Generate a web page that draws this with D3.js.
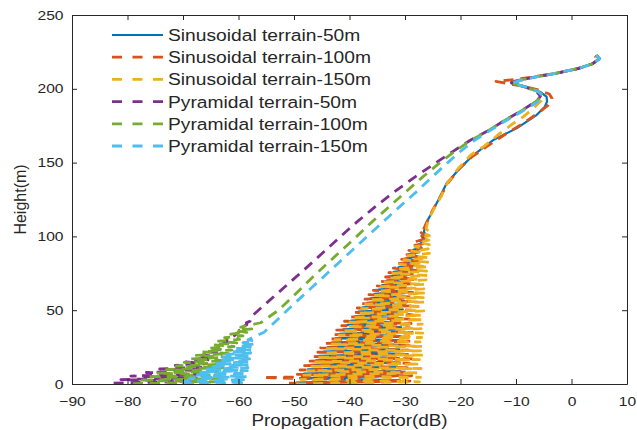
<!DOCTYPE html>
<html><head><meta charset="utf-8">
<script src="https://cdn.jsdelivr.net/npm/d3@7"></script>
<style>body{margin:0;background:#fff}svg{display:block}</style>
</head><body>
<svg id="c" width="637" height="430"></svg>
<script>
// ---- tick values ----
const xTicks = [-90,-80,-70,-60,-50,-40,-30,-20,-10,0,10];
const yTicks = [0,50,100,150,200,250];
const xLabel = "Propagation Factor(dB)";
const yLabel = "Height(m)";

// ---- series: [propagation factor dB, height m] ----
const seriesNames = ["Sinusoidal terrain-50m","Sinusoidal terrain-100m","Sinusoidal terrain-150m",
  "Pyramidal terrain-50m","Pyramidal terrain-100m","Pyramidal terrain-150m"];
const seriesColors = ["#0072BD","#D95319","#EDB120","#7E2F8E","#77AC30","#4DBEEE"];

const sin50 = [[-49.6,1],[-30.9,2.5],[-48.9,4],[-31.1,5.5],[-48.2,7],[-30.8,8.5],[-47.5,10],[-31.0,11.5],
  [-46.8,13],[-30.9,14.5],[-46.0,16],[-31.1,17.5],[-45.4,19],[-30.8,20.5],[-44.6,22],[-31.0,23.5],
  [-43.9,25],[-30.9,26.5],[-43.2,28],[-31.1,29.5],[-42.5,31],[-30.8,32.5],[-41.8,34],[-30.9,35.5],
  [-41.1,37],[-30.7,38.5],[-40.4,40],[-30.9,41.5],[-39.7,43],[-30.6,44.5],[-38.9,46],[-30.7,47.5],
  [-38.3,49],[-30.4,50.5],[-37.6,52],[-30.5,53.5],[-36.8,55],[-30.2,56.5],[-36.2,58],[-30.3,59.5],
  [-35.5,61],[-29.9,62.5],[-34.8,64],[-29.8,65.5],[-34.1,67],[-29.5,68.5],[-33.3,70],[-29.3,71.5],
  [-32.7,73],[-29.0,74.5],[-32.0,76],[-28.7,77.5],[-31.2,79],[-28.4,80.5],[-30.5,82],[-28.1,83.5],
  [-29.8,85],[-27.8,86.5],[-29.2,88],[-27.4,89.5],[-28.5,91],[-27.1,92.5],[-27.8,94],[-26.8,95.5],
  [-27.4,97],[-26.5,98.5],[-27.0,100],[-26.3,101.5],[-26.6,103],
  [-26.2,109],[-24.9,118],[-23.7,126.9],[-22.5,136],[-20.1,146.1],[-17.7,155.1],[-14.1,165.3],[-9.9,173.2],
  [-6.3,182.2],[-4.8,187.9],[-4.4,191.5],[-4.5,194.7],[-5.7,198],[-8.1,201.4],[-10.3,203.4],[-10.9,204.4],
  [-10.2,205.4],[-8.1,207.1],[-2.7,210.5],[1.5,213.9],[3.9,217.3],[5.1,220.7],[4.5,222.9]];

const sin100 = [[-50.9,0.5],[-29.1,2.0],[-55.6,4.4],[-28.8,5.6],[-49.4,6.5],[-29.3,8.0],[-48.9,9.5],
  [-28.9,11.0],[-48.1,12.5],[-29.2,14.0],[-47.1,15.5],[-28.7,17.0],[-46.7,18.5],[-29.1,20.0],[-45.7,21.5],
  [-29.4,23.0],[-45.2,24.5],[-28.8,26.0],[-44.3,27.5],[-29.0,29.0],[-43.8,30.5],[-29.3,32.0],[-42.8,33.5],
  [-28.7,35.0],[-42.3,36.5],[-29.1,38.0],[-41.4,39.5],[-28.9,41.0],[-40.9,42.5],[-29.2,44.0],[-40.0,45.5],
  [-28.8,47.0],[-39.5,48.5],[-29.0,50.0],[-38.6,51.5],[-28.7,53.0],[-37.9,54.5],[-29.1,56.0],[-37.2,57.5],
  [-28.8,59.0],[-36.5,60.5],[-28.6,62.0],[-35.7,63.5],[-28.9,65.0],[-35.0,66.5],[-28.5,68.0],[-34.4,69.5],
  [-28.3,71.0],[-33.5,72.5],[-28.4,74.0],[-32.9,75.5],[-28.0,77.0],[-32.1,78.5],[-27.9,80.0],[-31.4,81.5],
  [-27.6,83.0],[-30.6,84.5],[-27.5,86.0],[-29.9,87.5],[-27.2,89.0],[-29.3,90.5],[-27.0,92.0],[-28.7,93.5],
  [-26.8,95.0],[-28.1,96.5],[-26.6,98.0],[-27.6,99.5],[-26.4,101.0],[-27.1,102.5],[-26.2,104.0],[-26.6,105.5],
  [-26.0,110],[-25.0,118],[-23.6,127],[-22.3,136],[-20.2,146],[-17.9,154],[-15.3,160.8],[-11.7,169.8],
  [-8.7,176.6],[-5.7,184.5],[-4.2,189],[-3.5,193.5],[-4.0,196.5],[-6.0,199.2],[-8.8,201.8],[-11.5,203.6],
  [-13.6,205.1],[-11.0,206.0],[-7.8,207.6],[-3.2,210.2],[1.0,213.6],[3.7,216.8],[4.9,219.8],[4.2,222.3]];

const sin150 = [[-49.6,0],[-27.4,1.5],[-48.8,3],[-27.2,4.5],[-48.2,6],[-27.5,7.5],[-47.5,9],[-27.1,10.5],
  [-46.8,12],[-27.3,13.5],[-46.1,15],[-27.4,16.5],[-45.4,18],[-27.0,19.5],[-44.7,21],[-27.2,22.5],
  [-44.0,24],[-26.9,25.5],[-43.4,27],[-27.3,28.5],[-42.6,30],[-27.0,31.5],[-41.9,33],[-26.8,34.5],
  [-41.3,36],[-27.1,37.5],[-40.5,39],[-26.9,40.5],[-39.9,42],[-26.7,43.5],[-39.2,45],[-27.0,46.5],
  [-38.4,48],[-26.6,49.5],[-37.8,51],[-26.8,52.5],[-37.1,54],[-26.5,55.5],[-36.4,57],[-26.7,58.5],
  [-35.7,60],[-26.4,61.5],[-35.0,63],[-26.6,64.5],[-34.3,66],[-26.3,67.5],[-33.6,69],[-26.2,70.5],
  [-33.0,72],[-26.0,73.5],[-32.2,75],[-26.1,76.5],[-31.6,78],[-25.8,79.5],[-30.9,81],[-25.9,82.5],
  [-30.2,84],[-25.7,85.5],[-29.5,87],[-25.6,88.5],[-28.8,90],[-25.8,91.5],[-28.2,93],[-25.6,94.5],
  [-27.5,96],[-25.7,97.5],[-27.0,99],[-25.6,100.5],[-26.6,102],[-25.7,103.5],[-26.2,105],
  [-25.9,110],[-24.9,118],[-23.5,127],[-22.4,136],[-20.4,146],[-18.2,155],[-15.6,161.5],[-12.9,169.8],
  [-10.5,176.5],[-8.7,181],[-6.8,187],[-5.4,192],[-5.0,195],[-6.0,198.2],[-8.3,201.2],[-10.8,203.8],
  [-8.2,206.8],[-3.0,210.4],[1.3,213.8],[3.8,217.1],[5.0,220.3],[4.4,222.6]];

const pyr50 = [[-82.5,0.6],[-68.0,1.8],[-81.2,3.0],[-67.6,4.2],[-79.4,5.4],[-67.2,6.6],[-76.6,7.8],
  [-66.7,9.0],[-74.2,10.2],[-66.2,11.4],[-71.4,12.6],[-65.7,13.8],[-69.5,15.0],[-65.1,16.2],[-67.6,17.4],
  [-64.5,18.6],[-66.4,19.8],[-63.9,21.0],[-65.2,22.2],[-63.3,23.4],[-63.8,24.6],[-62.7,25.8],[-63.0,27.0],
  [-62.0,28.2],[-62.2,29.4],[-61.3,30.6],[-61.2,31.8],[-60.6,33.0],[-60.4,34.2],[-59.8,35.4],[-59.8,36.6],
  [-59.1,37.8],[-59.2,39.0],[-58.5,40.2],[-58.6,41.4],[-57.9,42.6],
  [-57.6,46],[-56.7,49],[-53.4,60],[-50.4,70],[-47.4,80],[-44.5,90],[-41.6,100],
  [-38.6,110],[-35.4,120],[-32.0,130],[-28.3,140],[-24.4,150],[-21.2,158],[-18.3,165],[-15.3,171],
  [-12.3,178],[-9.3,184.5],[-7.4,189],[-6.1,192.5],[-5.6,195],[-6.3,198.2],[-8.5,201.4],[-10.8,203.9],
  [-8.3,206.7],[-3.2,210.2],[1.2,213.7],[3.8,217.0],[5.0,220.2],[4.4,222.6]];

const pyr100 = [[-79.0,0.2],[-63.6,1.4],[-78.0,2.6],[-63.4,3.8],[-76.6,5.0],[-63.2,6.2],[-74.8,7.4],
  [-63.0,8.6],[-73.0,9.8],[-62.8,11.0],[-71.2,12.2],[-62.5,13.4],[-69.8,14.6],[-62.2,15.8],[-68.6,17.0],
  [-61.9,18.2],[-67.6,19.4],[-61.6,20.6],[-66.6,21.8],[-61.2,23.0],[-65.6,24.2],[-60.8,25.4],[-64.6,26.6],
  [-60.3,27.8],[-63.6,29.0],[-59.8,30.2],[-62.5,31.4],[-59.2,32.6],[-61.4,33.8],[-58.5,35.0],[-60.4,36.2],
  [-57.6,37.4],[-59.6,38.6],
  [-56.0,41.5],[-52.8,50],[-50.0,60],[-47.3,70],[-44.5,80],[-41.6,90],[-38.7,100],[-35.9,110],[-32.9,120],
  [-29.9,130],[-26.9,140],[-23.7,150],[-20.9,158],[-18.2,165],[-15.3,171],[-12.3,178],[-9.3,184.5],
  [-7.3,189],[-6.0,192.6],[-5.5,195.1],[-6.2,198.3],[-8.5,201.5],[-10.8,203.9],[-8.2,206.8],[-3.1,210.3],
  [1.3,213.8],[3.9,217.1],[5.0,220.3],[4.4,222.7]];

const pyr150 = [[-70.2,0.0],[-58.7,1.0],[-69.6,2.0],[-58.6,3.0],[-68.8,4.0],[-58.5,5.0],[-68.0,6.0],
  [-58.5,7.0],[-67.1,8.0],[-58.4,9.0],[-66.0,10.0],[-58.3,11.0],[-65.2,12.0],[-58.2,13.0],[-64.2,14.0],
  [-58.1,15.0],[-63.5,16.0],[-58.0,17.0],[-62.8,18.0],[-57.9,19.0],[-62.2,20.0],[-57.8,21.0],[-61.4,22.0],
  [-57.6,23.0],[-60.6,24.0],[-57.5,25.0],[-59.9,26.0],[-57.3,27.0],[-59.2,28.0],[-57.1,29.0],[-58.3,30.0],
  [-55.4,35],[-52.6,45],[-49.8,55],[-46.9,65],[-44.0,75],
  [-41.7,83],[-39.7,90],[-36.8,100],[-33.9,110],[-31.0,120],[-28.0,130],[-25.2,140],[-22.3,150],[-19.9,158],
  [-17.5,165],[-15.0,171],[-12.0,178],[-9.0,184.5],[-7.0,189],[-5.6,192.6],[-5.2,195.2],[-6.1,198.4],
  [-8.4,201.5],[-10.7,203.9],[-8.2,206.8],[-3.1,210.3],[1.3,213.8],[3.9,217.1],[5.1,220.4],[4.5,222.8]];

const allSeries = [sin50, sin100, sin150, pyr50, pyr100, pyr150];

// ---- layout ----
const svg = d3.select("#c");
const M = {left:72, right:627, top:15, bottom:384};
const x = d3.scaleLinear().domain([-90,10]).range([M.left, M.right]);
const y = d3.scaleLinear().domain([0,250]).range([M.bottom, M.top]);
const ink = "#262626";
const font = "'Liberation Sans', Arial, Helvetica, sans-serif";
const SX = 1.2;

svg.append("defs").append("clipPath").attr("id","clip")
  .append("rect").attr("x",M.left).attr("y",M.top)
  .attr("width",M.right-M.left).attr("height",M.bottom-M.top);

// lines
const line = d3.line().x(d=>x(d[0])).y(d=>y(d[1]));
const gLines = svg.append("g").attr("clip-path","url(#clip)");
allSeries.forEach((s,i)=>{
  gLines.append("path").datum(s).attr("d",line)
    .attr("fill","none").attr("stroke",seriesColors[i])
    .attr("stroke-width", i===0 ? 2.2 : 2.8)
    .attr("stroke-dasharray", i===0 ? null : "10,7")
    .attr("stroke-linejoin","round");
});

// axes
function styleAxis(g){
  g.selectAll("path,line").attr("stroke",ink).attr("stroke-width",1);
  g.selectAll("text").attr("fill",ink).attr("font-family",font).attr("font-size",13);
}
const gx = svg.append("g").attr("transform",`translate(0,${M.bottom})`)
  .call(d3.axisBottom(x).tickValues(xTicks).tickSizeInner(-5).tickSizeOuter(0).tickPadding(13));
styleAxis(gx); gx.selectAll("text").attr("transform",`scale(${SX},1)`);
const gy = svg.append("g").attr("transform",`translate(${M.left},0)`)
  .call(d3.axisLeft(y).tickValues(yTicks).tickSizeInner(-5).tickSizeOuter(0).tickPadding(7.1));
styleAxis(gy); gy.selectAll("text").attr("transform",`scale(${SX},1)`);
const gt = svg.append("g").attr("transform",`translate(0,${M.top})`)
  .call(d3.axisTop(x).tickValues(xTicks).tickSizeInner(-5).tickSizeOuter(0).tickFormat(""));
styleAxis(gt);
const gr = svg.append("g").attr("transform",`translate(${M.right},0)`)
  .call(d3.axisRight(y).tickValues(yTicks).tickSizeInner(-5).tickSizeOuter(0).tickFormat(""));
styleAxis(gr);

// axis labels
svg.append("text").attr("transform",`translate(${(M.left+M.right)/2},426) scale(1.18,1)`)
  .attr("text-anchor","middle").attr("font-family",font).attr("font-size",16).attr("fill",ink)
  .text(xLabel);
svg.append("text").attr("transform",`translate(26,${(M.top+M.bottom)/2}) rotate(-90)`)
  .attr("text-anchor","middle").attr("font-family",font).attr("font-size",16).attr("fill",ink)
  .text(yLabel);

// legend
const lg = svg.append("g");
seriesNames.forEach((n,i)=>{
  const yy = 35 + i*22.2;
  lg.append("line").attr("x1",112).attr("x2",163).attr("y1",yy).attr("y2",yy)
    .attr("stroke",seriesColors[i]).attr("stroke-width", i===0?2.2:2.8)
    .attr("stroke-dasharray", i===0?null:"10,10.5");
  lg.append("text").attr("transform",`translate(168,${yy+6}) scale(1.18,1)`)
    .attr("font-family",font).attr("font-size",16.3).attr("fill",ink).text(n);
});
</script>
</body></html>
